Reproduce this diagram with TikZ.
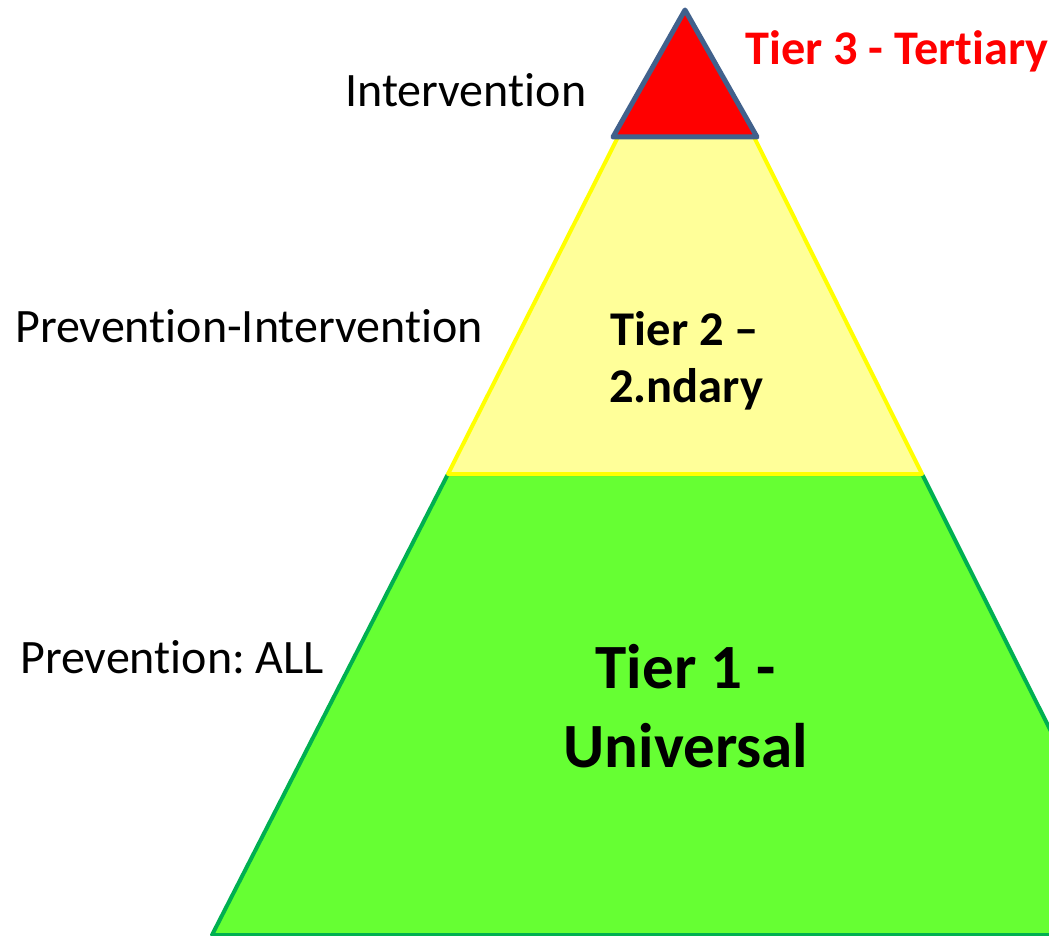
\documentclass[tikz,border=0pt]{standalone}
\usepackage{fontspec}
\setmainfont{Carlito}[Ligatures={NoCommon,NoContextual}]
\frenchspacing
\newcommand\nolig{\kern0pt}
\definecolor{grfill}{HTML}{66FF33}
\definecolor{grline}{HTML}{00B050}
\definecolor{ylfill}{HTML}{FFFF99}
\definecolor{ylline}{HTML}{FFFF00}
\definecolor{rdfill}{HTML}{FF0000}
\definecolor{rdline}{HTML}{41618C}
\tikzset{
  lbl/.style={anchor=base west, inner sep=0pt, font=\fontsize{48}{56}\selectfont},
  tiertxt/.style={anchor=base, inner sep=0pt, font=\fontsize{48.5}{57}\selectfont\bfseries},
  bigtxt/.style={anchor=base, inner sep=0pt, font=\fontsize{63}{76}\selectfont\bfseries},
}
\begin{document}
\begin{tikzpicture}[x=1pt,y=-1pt]
\useasboundingbox (0,0) rectangle (1049,936);
\clip (0,0) rectangle (1049,936);
% tier 1 (green)
\draw[fill=grfill, draw=grline, line width=4pt, line join=round]
  (448,474) -- (922,474) -- (1153,935) -- (212,935) -- cycle;
% tier 2 (yellow)
\draw[fill=ylfill, draw=ylline, line width=4pt, line join=round]
  (618,137) -- (754,137) -- (922,474) -- (448,474) -- cycle;
% tier 3 (red)
\draw[fill=rdfill, draw=rdline, line width=5pt, line join=round]
  (685,10) -- (757,137) -- (613,137) -- cycle;
% labels
\node[lbl] (intv) at (345,107) {Intervent\nolig ion};
\node[lbl] (previntv) at (15,342) {Prevent\nolig ion-Intervent\nolig ion};
\node[lbl] (prevall) at (20,673) {Prevent\nolig ion: ALL};
\node[lbl, font=\fontsize{48.3}{57}\selectfont\bfseries, text=rdfill] (t3) at (745,65) {Tier 3 - Tert\nolig iary};
\node[tiertxt] (t2a) at (685,345) {Tier 2 –};
\node[tiertxt] (t2b) at (686,402) {2.ndary};
\node[bigtxt] (t1a) at (686,688) {Tier 1 -};
\node[bigtxt] (t1b) at (686,767) {Universal};
\end{tikzpicture}
\end{document}
